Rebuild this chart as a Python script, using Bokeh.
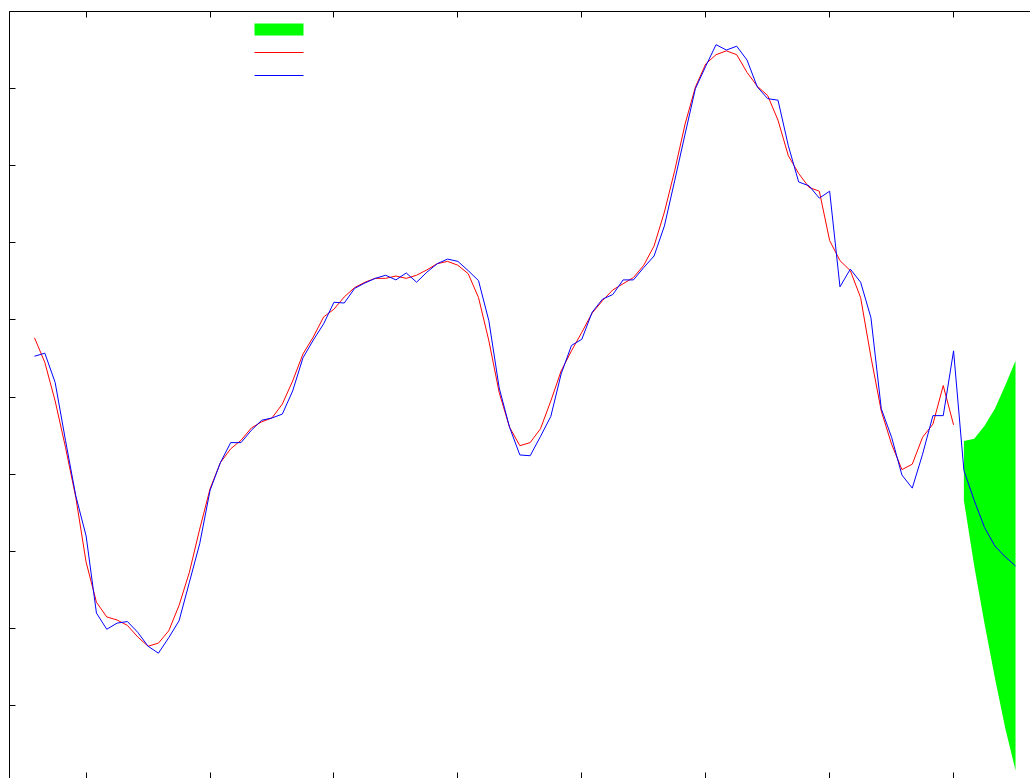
from bokeh.plotting import figure
from bokeh.models import Range1d, LinearAxis, FixedTicker, BoxAnnotation
from bokeh.embed import file_html
from bokeh.resources import INLINE

# Monthly observations (index 0..89)
smoothed = [5.77, 5.45, 4.95, 4.35, 3.70, 2.86, 2.34, 2.15, 2.11, 2.04,
            1.89, 1.77, 1.81, 1.97, 2.30, 2.73, 3.29, 3.81, 4.15, 4.33,
            4.44, 4.60, 4.68, 4.73, 4.91, 5.21, 5.56, 5.78, 6.04, 6.14,
            6.30, 6.42, 6.49, 6.54, 6.54, 6.57, 6.54, 6.58, 6.65, 6.73,
            6.76, 6.71, 6.60, 6.29, 5.73, 5.06, 4.61, 4.37, 4.41, 4.59,
            4.95, 5.34, 5.60, 5.84, 6.09, 6.25, 6.39, 6.47, 6.55, 6.71,
            6.96, 7.40, 7.94, 8.54, 9.02, 9.32, 9.44, 9.49, 9.44, 9.21,
            9.03, 8.91, 8.59, 8.13, 7.90, 7.72, 7.67, 7.03, 6.77, 6.64,
            6.29, 5.52, 4.82, 4.39, 4.06, 4.13, 4.48, 4.65, 5.15, 4.64]

observed = [5.53, 5.57, 5.19, 4.44, 3.72, 3.20, 2.20, 1.99, 2.07, 2.09,
            1.95, 1.77, 1.68, 1.88, 2.10, 2.60, 3.10, 3.79, 4.15, 4.41,
            4.41, 4.57, 4.70, 4.73, 4.78, 5.08, 5.51, 5.74, 5.95, 6.23,
            6.22, 6.41, 6.48, 6.54, 6.58, 6.52, 6.61, 6.49, 6.62, 6.73,
            6.79, 6.76, 6.64, 6.51, 5.99, 5.12, 4.61, 4.25, 4.24, 4.49,
            4.75, 5.30, 5.67, 5.75, 6.10, 6.27, 6.33, 6.52, 6.52, 6.68,
            6.83, 7.22, 7.81, 8.41, 9.00, 9.29, 9.57, 9.50, 9.55, 9.37,
            9.02, 8.87, 8.85, 8.26, 7.79, 7.74, 7.58, 7.67, 6.43, 6.66,
            6.49, 6.03, 4.85, 4.48, 3.99, 3.82, 4.26, 4.76, 4.76, 5.60]

# Six-month forecast with its band
forecast = [4.05, 3.66, 3.31, 3.07, 2.93, 2.81]
band_upper = [4.43, 4.46, 4.63, 4.85, 5.15, 5.47]
band_lower = [3.66, 2.81, 2.06, 1.36, 0.71, 0.16]

months = list(range(len(observed)))
fc_months = list(range(len(observed), len(observed) + len(forecast)))
year_ticks = list(range(5, 90, 12))
y_ticks = list(range(1, 11))

BAND_COLOR = "#00ff00"
SMOOTH_COLOR = "#ff0000"
OBS_COLOR = "#0000ff"

p = figure(width=1030, height=778, output_backend="svg", toolbar_location=None,
           x_range=Range1d(-2.42, 96.45), y_range=Range1d(0.055, 10.0),
           x_axis_location=None, y_axis_location=None,
           min_border_left=9, min_border_top=11, min_border_right=0, min_border_bottom=0,
           outline_line_color=None, background_fill_color="white",
           border_fill_color="white")
p.grid.visible = False


def frame_axis(ticks):
    # unlabelled frame edge: ticks are drawn as minor ticks pointing inward
    return LinearAxis(ticker=FixedTicker(ticks=[], minor_ticks=ticks),
                      minor_tick_in=6, minor_tick_out=0,
                      minor_tick_line_color="black", minor_tick_line_width=1,
                      major_tick_in=0, major_tick_out=0,
                      major_label_standoff=0,
                      axis_line_color="black", axis_line_width=1)


p.add_layout(frame_axis(y_ticks), "left")
p.add_layout(frame_axis(year_ticks), "above")
p.add_layout(frame_axis(year_ticks), "below")

p.varea(x=fc_months, y1=band_lower, y2=band_upper, fill_color=BAND_COLOR)
p.line(months, smoothed, line_color=SMOOTH_COLOR, line_width=1)
p.line(months + fc_months, observed + forecast, line_color=OBS_COLOR, line_width=1)

# key swatches (canvas pixels)
key_left, key_right = 254, 303
keys = [(23, 35, BAND_COLOR), (51.5, 52.5, SMOOTH_COLOR), (74.5, 75.5, OBS_COLOR)]
for top, bottom, color in keys:
    p.add_layout(BoxAnnotation(left=key_left, right=key_right, top=top, bottom=bottom,
                               left_units="canvas", right_units="canvas",
                               top_units="canvas", bottom_units="canvas",
                               fill_color=color, fill_alpha=1.0, line_color=None))

open("out.html", "w").write(file_html(p, INLINE))
